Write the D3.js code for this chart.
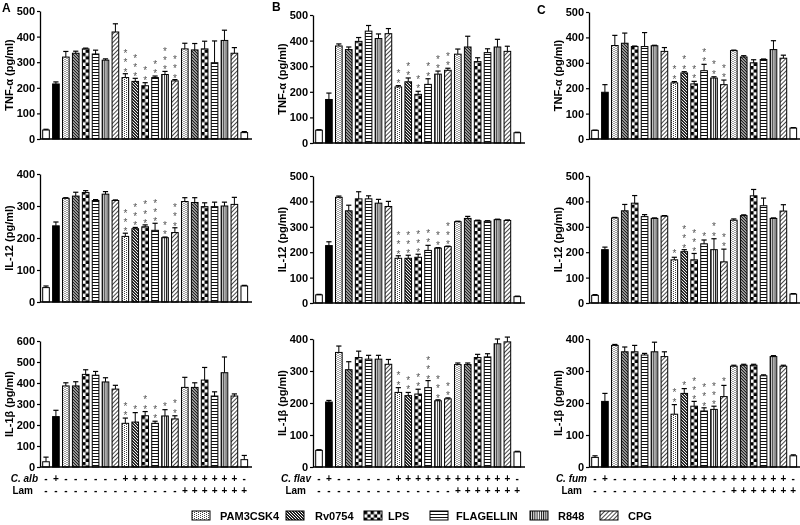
<!DOCTYPE html>
<html><head><meta charset="utf-8">
<script src="https://cdn.jsdelivr.net/npm/d3@7"></script>
<style>
body{margin:0;background:#fff}
svg{filter:grayscale(100%)}
text{font-family:Arial,"Liberation Sans",sans-serif}
.stars{writing-mode:vertical-rl;text-orientation:upright}
</style>
</head><body>
<svg id="chart" width="800" height="525"></svg>
<script>
// ---------- DATA ----------
const agonists = ["PAM3CSK4","Rv0754","LPS","FLAGELLIN","R848","CPG"];
const fungusSigns = ["-","+","-","-","-","-","-","-","+","+","+","+","+","+","+","+","+","+","+","+","-"];
const lamSigns    = ["-","-","-","-","-","-","-","-","-","-","-","-","-","-","+","+","+","+","+","+","+"];
const fungusNames = ["C. alb","C. flav","C. fum"];
const panelLetters = ["A","B","C"];
const cytokineTitles = ["TNF-\u03b1 (pg/ml)","IL-12 (pg/ml)","IL-1\u03b2 (pg/ml)"];

// Panel A (C. albicans)
const tnfA      = [35,215,320,335,352,332,308,418,240,225,208,240,252,227,352,348,352,298,385,335,25];
const tnfAErr   = [3,8,22,8,3,15,5,32,15,12,12,6,12,5,22,25,30,85,40,22,4];
const tnfAStars = [0,0,0,0,0,0,0,0,3,3,2,2,3,3,0,0,0,0,0,0,0];
const il12A      = [45,238,324,331,342,317,337,317,205,229,235,224,201,217,314,311,298,298,300,305,50];
const il12AErr   = [5,12,2,12,6,3,8,2,10,4,6,22,2,15,12,15,12,14,12,22,2];
const il12AStars = [0,0,0,0,0,0,0,0,3,3,3,3,2,3,0,0,0,0,0,0,0];
const il1bA      = [25,240,386,386,441,437,405,371,208,214,244,208,243,229,379,379,414,338,449,338,35];
const il1bAErr   = [22,30,15,20,22,18,20,18,25,45,20,10,30,15,48,22,60,20,75,10,20];
const il1bAStars = [0,0,0,0,0,0,0,0,2,1,2,2,1,2,0,0,0,0,0,0,0];

// Panel B (C. flavescens)
const tnfB      = [50,170,379,365,397,437,408,427,219,239,190,229,269,284,347,375,318,353,375,358,40];
const tnfBErr   = [2,25,8,10,15,22,18,20,5,15,12,22,12,8,20,42,15,15,30,20,2];
const tnfBStars = [0,0,0,0,0,0,0,0,2,2,2,2,2,2,0,0,0,0,0,0,0];
const il12B      = [32,226,416,363,410,410,393,380,176,176,180,207,216,222,320,333,324,322,328,325,25];
const il12BErr   = [2,15,5,22,28,12,15,20,10,12,12,20,2,2,2,8,2,2,2,2,2];
const il12BStars = [0,0,0,0,0,0,0,0,3,3,3,2,2,3,0,0,0,0,0,0,0];
const il1bB      = [52,203,358,304,342,337,337,321,233,223,228,248,207,213,320,320,342,344,385,391,47];
const il1bBErr   = [2,5,20,25,20,12,12,15,15,10,15,22,3,3,5,5,10,10,15,15,2];
const il1bBStars = [0,0,0,0,0,0,0,0,2,2,2,3,3,2,0,0,0,0,0,0,0];

// Panel C (C. fumigatus)
const tnfC      = [34,184,368,377,364,364,367,345,221,260,217,269,240,214,348,323,300,313,352,318,43];
const tnfCErr   = [1,30,40,40,2,55,2,15,5,5,10,25,5,18,2,5,12,2,35,12,2];
const tnfCStars = [0,0,0,0,0,0,0,0,2,2,2,2,2,2,0,0,0,0,0,0,0];
const il12C      = [30,210,335,363,393,340,333,342,170,202,170,233,210,162,326,344,422,383,333,362,35];
const il12CErr   = [3,10,2,25,30,8,2,2,10,8,25,15,43,50,5,3,25,30,2,25,2];
const il12CStars = [0,0,0,0,0,0,0,0,1,3,3,1,2,2,0,0,0,0,0,0,0];
const il1bC      = [30,205,380,360,360,350,360,345,165,230,190,175,180,220,315,318,318,285,345,315,35];
const il1bCErr   = [5,25,3,15,20,5,30,15,30,15,15,10,10,35,3,3,3,3,3,3,3];
const il1bCStars = [0,0,0,0,0,0,0,0,2,1,3,3,3,1,0,0,0,0,0,0,0];

const yMax = [[500,500,500],[400,500,500],[600,400,400]]; // [row][col]

// ---------- LAYOUT ----------
const svg = d3.select("#chart");
const axisXs = [40, 313, 589];
const rowRanges = [
  [[11,139],[15,143],[12,139]],
  [[174,302],[176,303],[176,303]],
  [[341,467],[339,467],[339,467]]
];
const panelData = [
  [[tnfA,tnfAErr,tnfAStars],[tnfB,tnfBErr,tnfBStars],[tnfC,tnfCErr,tnfCStars]],
  [[il12A,il12AErr,il12AStars],[il12B,il12BErr,il12BStars],[il12C,il12CErr,il12CStars]],
  [[il1bA,il1bAErr,il1bAStars],[il1bB,il1bBErr,il1bBStars],[il1bC,il1bCErr,il1bCStars]]
];

// ---------- PATTERNS ----------
const defs = svg.append("defs");
function pat(id, w, h, build, transform){
  const p = defs.append("pattern").attr("id",id).attr("patternUnits","userSpaceOnUse")
    .attr("width",w).attr("height",h);
  if (transform) p.attr("patternTransform",transform);
  p.append("rect").attr("width",w).attr("height",h).attr("fill","#fff");
  build(p);
}
function dot(p,x,y,w,h,col){ p.append("rect").attr("x",x).attr("y",y).attr("width",w).attr("height",h).attr("fill",col); }
pat("p0",4,2,p=>{ dot(p,0,0,1,1,"#444"); dot(p,2,1,1,1,"#444"); });
pat("p1",3,3,p=>{ dot(p,0,0,2,1,"#222"); dot(p,1,1,2,1,"#222"); dot(p,0,2,1,1,"#222"); dot(p,2,2,1,1,"#222"); });
pat("p2",6.6,6.6,p=>{ dot(p,0,0,3.3,3.3,"#000"); dot(p,3.3,3.3,3.3,3.3,"#000"); });
pat("p3",4,3,p=>{ dot(p,0,0,4,1,"#111"); });
pat("p4",2.2,4,p=>{ dot(p,0,0,1,4,"#111"); });
pat("p5",3,3,p=>{ dot(p,0,0,0.9,3,"#333"); }, "rotate(45)");

function fillFor(i){
  if (i===0 || i===20) return "#fff";
  if (i===1) return "#000";
  return "url(#p" + ((i-2)%6) + ")";
}

// ---------- PANELS ----------
for (let r=0;r<3;r++){
  for (let c=0;c<3;c++){
    const [vals, errs, stars] = panelData[r][c];
    const ax = axisXs[c];
    const [top, bottom] = rowRanges[r][c];
    const max = yMax[r][c];
    const y = d3.scaleLinear().domain([0,max]).range([bottom, top]);
    const x = d3.scaleBand().domain(d3.range(vals.length))
      .range([ax+1, ax+1+208.3]).paddingInner(0.33).paddingOuter(0.17);
    const bw = x.bandwidth();
    const g = svg.append("g");

    // bars
    const bars = g.selectAll("g.bar").data(vals).join("g").attr("class","bar")
      .attr("transform",(d,i)=>`translate(${x(i)},0)`);
    bars.append("rect").attr("x",0).attr("y",d=>y(d)).attr("width",bw)
      .attr("height",d=>y(0)-y(d)).attr("fill",(d,i)=>fillFor(i))
      .attr("stroke","#000").attr("stroke-width",1);
    // error bars
    bars.append("line").attr("x1",bw/2).attr("x2",bw/2)
      .attr("y1",d=>y(d)).attr("y2",(d,i)=>y(d+errs[i])).attr("stroke","#000").attr("stroke-width",1);
    bars.append("line").attr("x1",bw/2-2.6).attr("x2",bw/2+2.6)
      .attr("y1",(d,i)=>y(d+errs[i])).attr("y2",(d,i)=>y(d+errs[i])).attr("stroke","#000").attr("stroke-width",1.2);
    // stars: one vertical text per bar
    bars.each(function(d,i){
      const n = stars[i];
      if (!n) return;
      const bottomCy = y(d+errs[i]) - 6;
      d3.select(this).append("text").attr("class","stars")
        .attr("x",bw/2).attr("y",bottomCy - (n-1)*8.3 - 3)
        .attr("font-size",10).attr("letter-spacing",-1.7).attr("fill","#555")
        .text("*".repeat(n));
    });

    // y axis
    const yAxis = g.append("g").attr("transform",`translate(${ax},0)`)
      .call(d3.axisLeft(y).ticks(max/100).tickSize(3).tickPadding(2).tickSizeOuter(0));
    yAxis.select(".domain").attr("stroke","#000").attr("stroke-width",1.3);
    yAxis.selectAll(".tick line").attr("stroke","#000").attr("stroke-width",1.2);
    yAxis.selectAll(".tick text").attr("font-size",11).attr("font-weight","bold")
      .attr("font-family","Arial, 'Liberation Sans', sans-serif").attr("fill","#000");
    // x axis line
    g.append("line").attr("x1",ax).attr("x2",ax+212).attr("y1",y(0)).attr("y2",y(0))
      .attr("stroke","#000").attr("stroke-width",1.3);

    // y title
    g.append("text").attr("transform",`translate(${ax-31},${(top+bottom)/2}) rotate(-90)`)
      .attr("text-anchor","middle").attr("dy","0.35em").attr("font-size",11).attr("font-weight","bold")
      .text(cytokineTitles[r]);

    if (r===0){
      const lx = [2,272,537][c], ly = [12,11,14][c];
      svg.append("text").attr("x",lx).attr("y",ly).attr("font-size",12).attr("font-weight","bold")
        .text(panelLetters[c]);
    }
    if (r===2){
      const sg = svg.append("g");
      sg.selectAll("text.f").data(fungusSigns).join("text").attr("class","f")
        .attr("x",(d,i)=>x(i)+bw/2).attr("y",482).attr("text-anchor","middle")
        .attr("font-size",10).attr("font-weight","bold").text(d=>d);
      sg.selectAll("text.l").data(lamSigns).join("text").attr("class","l")
        .attr("x",(d,i)=>x(i)+bw/2).attr("y",493.5).attr("text-anchor","middle")
        .attr("font-size",10).attr("font-weight","bold").text(d=>d);
      sg.append("text").attr("x",ax-2).attr("y",482).attr("text-anchor","end")
        .attr("font-size",10).attr("font-weight","bold").attr("font-style","italic").text(fungusNames[c]);
      sg.append("text").attr("x",ax-7).attr("y",493.5).attr("text-anchor","end")
        .attr("font-size",10).attr("font-weight","bold").text("Lam");
    }
  }
}

// ---------- LEGEND ----------
const swX = [192,286,364,430,530,600];
const txX = [220,315,388,456,558,628];
const leg = svg.append("g");
agonists.forEach((name,i)=>{
  const gi = leg.append("g").attr("transform",`translate(${swX[i]},511)`);
  gi.append("rect").attr("x",0).attr("y",0).attr("width",18).attr("height",9)
    .attr("fill",`url(#p${i})`).attr("stroke","#000").attr("stroke-width",1);
  leg.append("text").attr("x",txX[i]).attr("y",520).attr("font-size",11).attr("font-weight","bold").text(name);
});
</script>
</body></html>
